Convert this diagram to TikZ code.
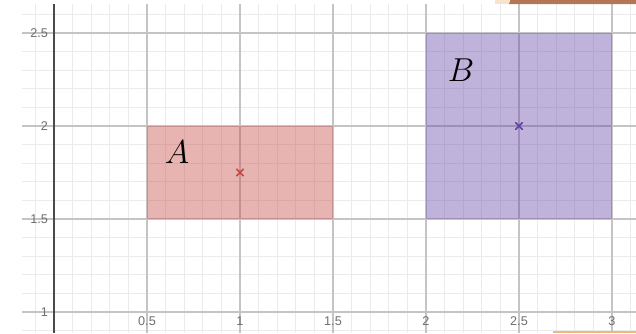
\documentclass[tikz,border=0pt]{standalone}
\usepackage{fontspec}
\setsansfont{Liberation Sans}
\usetikzlibrary{calc}
\definecolor{minorgrid}{HTML}{EBEBEB}
\definecolor{majorgrid}{HTML}{C4C4C4}
\definecolor{axiscol}{HTML}{4A4A4A}
\definecolor{ticktext}{HTML}{6E6E6E}
\definecolor{dred}{HTML}{C74440}
\definecolor{dpurple}{HTML}{6042A6}
\definecolor{peach}{HTML}{F8E3CC}
\definecolor{brownbar}{HTML}{B47655}
\definecolor{orangeline}{HTML}{F2B77A}
\tikzset{
  minorline/.style={draw=minorgrid, line width=0.7pt},
  majorline/.style={draw=majorgrid, line width=0.9pt},
  axisline/.style={draw=axiscol, line width=1.4pt},
  xtick/.style={font=\sffamily\fontsize{9.5}{11}\selectfont, text=ticktext, anchor=north, inner sep=1pt},
  ytick/.style={font=\sffamily\fontsize{9.5}{11}\selectfont, text=ticktext, anchor=east, inner sep=1.5pt},
  region/.style={fill opacity=0.4},
  setlabel/.style={font=\fontsize{37}{40}\selectfont, inner sep=0pt},
  xmark/.style={line width=1.3pt, line cap=round}
}
\begin{document}
\begin{tikzpicture}[x=139.5pt,y=139.5pt]
\useasboundingbox (-0.29032,0.88710) rectangle (3.12903,2.67742);
\fill[white] (-0.29032,0.88710) rectangle (3.12903,2.67742);
% minor grid
\foreach \i in {-1,...,31} {
  \draw[minorline] (\i/10,0.88710) -- (\i/10,2.6559);
}
\foreach \j in {9,...,26} {
  \draw[minorline] (-0.172,\j/10) -- (3.12903,\j/10);
}
% major grid
\foreach \i in {0.5,1,1.5,2,2.5,3} {
  \draw[majorline] (\i,0.88710) -- (\i,2.6559);
}
\foreach \j in {1,1.5,2,2.5} {
  \draw[majorline] (-0.172,\j) -- (3.12903,\j);
}
% y axis
\draw[axisline] (0,0.88710) -- (0,2.6559);
% regions
\fill[region, dred] (0.5,1.5) rectangle (1.5,2);
\fill[region, dpurple] (2,1.5) rectangle (3,2.5);
% centre marks
\coordinate (ca) at (1,1.75);
\coordinate (cb) at (2.5,2);
\draw[xmark, dred] ($(ca)+(-0.018,-0.018)$) -- ($(ca)+(0.018,0.018)$);
\draw[xmark, dred] ($(ca)+(-0.018,0.018)$) -- ($(ca)+(0.018,-0.018)$);
\draw[xmark, dpurple] ($(cb)+(-0.018,-0.018)$) -- ($(cb)+(0.018,0.018)$);
\draw[xmark, dpurple] ($(cb)+(-0.018,0.018)$) -- ($(cb)+(0.018,-0.018)$);
% labels
\node[setlabel] (la) at (0.661,1.86) {$A$};
\node[setlabel] (lb) at (2.188,2.30) {$B$};
% tick labels
\node[xtick] (x05) at (0.5,0.985) {0.5};
\node[xtick] (x10) at (1,0.985) {1};
\node[xtick] (x15) at (1.5,0.985) {1.5};
\node[xtick] (x20) at (2,0.985) {2};
\node[xtick] (x25) at (2.5,0.985) {2.5};
\node[xtick] (x30) at (3,0.985) {3};
\node[ytick] (y10) at (-0.02,1) {1};
\node[ytick] (y15) at (-0.02,1.5) {1.5};
\node[ytick] (y20) at (-0.02,2) {2};
\node[ytick] (y25) at (-0.02,2.5) {2.5};
% screenshot edge artifacts
\fill[peach] (2.371,2.6559) rectangle (2.446,2.67742);
\fill[brownbar] (2.446,2.6559) -- (2.453,2.67742) -- (3.12903,2.67742) -- (3.12903,2.6559) -- cycle;
\fill[orangeline] (2.683,0.88710) rectangle (3.12903,0.8985);
\end{tikzpicture}
\end{document}
